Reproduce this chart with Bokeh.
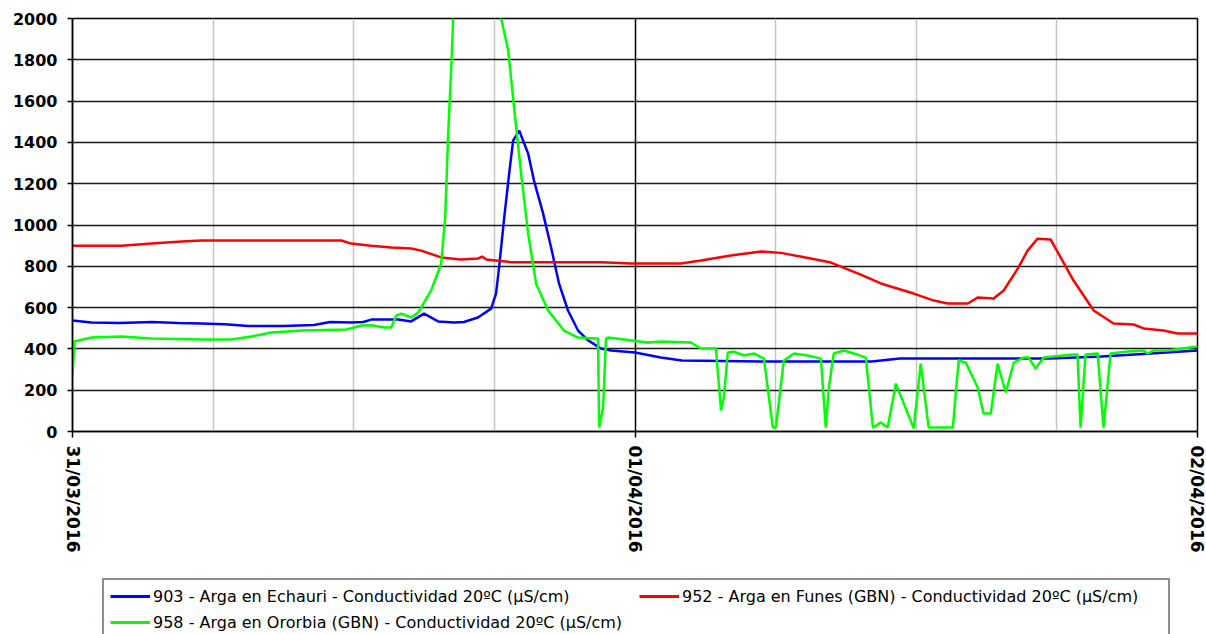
from bokeh.plotting import figure
from bokeh.models import FixedTicker, Legend, LegendItem, Range1d
from bokeh.layouts import column
from bokeh.embed import file_html
from bokeh.resources import INLINE

# ---- axis labels ----
day_labels = ["31/03/2016", "01/04/2016", "02/04/2016"]
day_hours = [0, 24, 48]
grid_hours = [6, 12, 18, 30, 36, 42]
y_ticks = list(range(0, 2001, 200))

names = [
    "903 - Arga en Echauri - Conductividad 20ºC (µS/cm)",
    "952 - Arga en Funes (GBN) - Conductividad 20ºC (µS/cm)",
    "958 - Arga en Ororbia (GBN) - Conductividad 20ºC (µS/cm)",
]
colors = ["#0000ff", "#ff0000", "#00ff00"]

# ---- series (hours from 31/03/2016 00:00, µS/cm) ----
hours_903 = [0, 0.8, 2.0, 3.4, 4.5, 5.5, 6.5, 7.5, 9.0, 10.3, 11.0, 11.9, 12.4, 12.75,
             13.9, 14.45, 15.0, 15.6, 16.3, 16.7, 17.3, 17.86, 18.07, 18.2, 18.42, 18.63,
             18.8, 19.06, 19.44, 19.69, 20.08, 20.42, 20.76, 21.14, 21.57, 22.0, 22.55,
             22.98, 24.0, 25.1, 26.0, 29.4, 34.1, 35.3, 39.6, 41.7, 43.9, 46.0, 48.0]
cond_903 = [537, 528, 525, 530, 526, 523, 519, 511, 511, 516, 530, 528, 530, 542,
            542, 533, 571, 533, 528, 530, 552, 595, 668, 794, 1036, 1249,
            1409, 1457, 1346, 1215, 1055, 891, 716, 586, 489, 441, 402,
            392, 383, 358, 344, 339, 339, 353, 353, 353, 363, 378, 392]

hours_952 = [0, 2.09, 3.37, 4.65, 5.5, 9.76, 11.47, 11.89, 12.75, 13.6, 14.45, 14.88,
             15.73, 16.58, 17.31, 17.48, 17.65, 18.71, 22.55, 23.83, 25.96, 26.81, 28.09,
             29.37, 30.22, 31.5, 32.36, 33.63, 34.49, 35.89, 36.75, 37.34, 38.2, 38.62,
             39.3, 39.73, 40.33, 40.75, 41.18, 41.73, 42.16, 42.71, 43.57, 44.42, 45.27,
             45.7, 46.55, 47.15, 48.0]
cond_952 = [900, 900, 910, 920, 925, 925, 925, 910, 900, 891, 886, 876,
            843, 833, 838, 847, 833, 820, 820, 814, 814, 828, 852,
            872, 865, 838, 818, 760, 717, 668, 634, 620, 620, 649,
            644, 683, 789, 876, 934, 930, 843, 731, 586, 523, 518,
            499, 489, 475, 475]

hours_958 = [0, 0.085, 0.81, 2.09, 3.37, 5.5, 6.78, 7.63, 8.48, 9.76, 11.68, 12.32,
             12.75, 13.3, 13.6, 13.81, 14.03, 14.45, 14.75, 15.3, 15.73, 15.9, 16.03,
             16.16, 16.24, 16.4, 17.3, 18.1, 18.29, 18.59, 18.84, 19.14, 19.44, 19.78,
             20.29, 20.97, 21.57, 22.34, 22.42, 22.47, 22.64, 22.76, 22.85, 24.55, 25.11,
             26.39, 26.81, 27.45, 27.67, 27.79, 27.96, 28.22, 28.65, 29.07, 29.5, 29.88,
             30.01, 30.35, 30.78, 31.37, 31.93, 32.14, 32.27, 32.48, 32.91, 33.34, 33.85,
             34.15, 34.49, 34.78, 35.13, 35.89, 36.19, 36.53, 37.56, 37.81, 38.11, 38.62,
             38.87, 39.18, 39.47, 39.82, 40.16, 40.58, 40.8, 41.09, 41.44, 42.67, 42.88,
             43.01, 43.22, 43.74, 43.99, 44.29, 45.01, 45.7, 45.87, 46.12, 46.72, 48.0]
cond_958 = [271, 436, 455, 460, 450, 445, 445, 460, 479, 489, 494, 513,
            515, 504, 504, 562, 571, 552, 576, 683, 813, 1036, 1443,
            1763, 2000, 2400, 2700, 2300, 2000, 1845, 1569, 1249, 959, 716,
            586, 489, 455, 450, 450, 19, 116, 450, 455, 431, 436,
            431, 402, 402, 102, 165, 383, 387, 368, 378, 353, 19,
            19, 344, 378, 368, 353, 19, 213, 378, 392, 378, 358,
            19, 44, 19, 232, 15, 329, 19, 19, 344, 334, 213,
            87, 87, 329, 189, 334, 358, 358, 305, 358, 373, 373,
            19, 373, 378, 19, 378, 387, 392, 378, 392, 392, 412]

series = [(hours_903, cond_903), (hours_952, cond_952), (hours_958, cond_958)]

FONT = "DejaVu Sans"

# ---------------- chart ----------------
p = figure(width=1206, height=575,
           x_range=Range1d(0, 48), y_range=Range1d(0, 2000),
           output_backend="svg", toolbar_location=None,
           min_border_left=72, min_border_right=9,
           min_border_top=18, min_border_bottom=144,
           background_fill_color="white", border_fill_color="white")
p.outline_line_color = "black"
p.outline_line_width = 1.5

p.xaxis.ticker = FixedTicker(ticks=day_hours, minor_ticks=grid_hours)
p.yaxis.ticker = FixedTicker(ticks=y_ticks)
p.xgrid.grid_line_color = "black"
p.xgrid.grid_line_width = 1.5
p.xgrid.minor_grid_line_color = "#c4c4c4"
p.xgrid.minor_grid_line_width = 1.5
p.ygrid.grid_line_color = "#1a1a1a"
p.ygrid.grid_line_width = 1.5

for ax in (p.xaxis, p.yaxis):
    ax.axis_line_color = "black"
    ax.axis_line_width = 1.5
    ax.major_tick_line_color = "black"
    ax.major_tick_line_width = 1.5
    ax.major_tick_in = 0
    ax.minor_tick_line_color = None
    ax.major_label_text_font = FONT
    ax.major_label_text_font_style = "bold"
    ax.major_label_text_color = "black"
p.yaxis.major_label_text_font_size = "16px"
p.xaxis.major_label_text_font_size = "17px"
p.yaxis.major_tick_out = 5
p.yaxis.major_label_standoff = 10
p.xaxis.major_tick_out = 6
p.xaxis.major_label_standoff = 8
p.xaxis.major_label_orientation = "vertical"
p.xaxis.major_label_overrides = {h: lab for h, lab in zip(day_hours, day_labels)}

for (hx, cy), c in zip(series, colors):
    p.line(hx, cy, line_color=c, line_width=2.5)

# ---------------- legend strip (same series, outside its tiny range -> only swatches show) ----
lg = figure(width=1206, height=59, x_range=Range1d(0, 1), y_range=Range1d(-2, -1),
            output_backend="svg", toolbar_location=None,
            min_border_left=0, min_border_right=0, min_border_top=0, min_border_bottom=0,
            background_fill_color="white", border_fill_color="white")
lg.axis.visible = False
lg.grid.visible = False
lg.outline_line_color = None
swatches = [lg.line(hx, cy, line_color=c, line_width=3) for (hx, cy), c in zip(series, colors)]

legend = Legend(
    items=[LegendItem(label=names[0], renderers=[swatches[0]]),
           LegendItem(label=names[2], renderers=[swatches[2]]),
           LegendItem(label=names[1], renderers=[swatches[1]])],
    location=(30, -6), ncols=2,
    label_text_font=FONT, label_text_font_size="16px", label_text_color="black",
    glyph_width=40, glyph_height=20, label_height=20, label_width=480, label_standoff=3,
    padding=6, spacing=6, margin=0,
    border_line_color="#222222", border_line_width=2,
    background_fill_color="white", background_fill_alpha=1.0,
)
lg.add_layout(legend)

open("out.html", "w").write(file_html(column(p, lg, spacing=0), INLINE))
